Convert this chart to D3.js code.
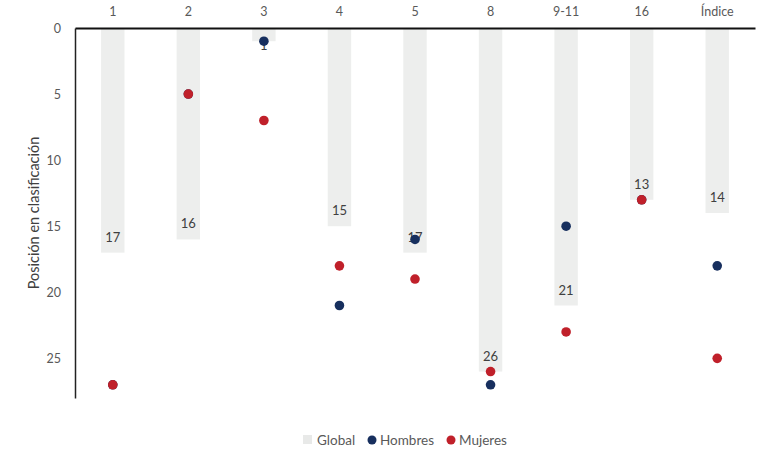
<!DOCTYPE html>
<html>
<head>
<meta charset="utf-8">
<script src="https://cdn.jsdelivr.net/npm/d3@7"></script>
<style>
  body { margin: 0; background: #fff; }
  text { font-family: Lato, "Open Sans", sans-serif; }
</style>
</head>
<body>
<div id="chart"></div>
<script>
// categories and values
var categories = ["1", "2", "3", "4", "5", "8", "9-11", "16", "Índice"];
var globalRank = [17, 16, 1, 15, 17, 26, 21, 13, 14];
var hombres = [27, 5, 1, 21, 16, 27, 15, 13, 18];
var mujeres = [27, 5, 7, 18, 19, 26, 23, 13, 25];
var yTicks = [0, 5, 10, 15, 20, 25];

var width = 762, height = 451;
var margin = {top: 28, left: 75, right: 7, bottom: 53};

var svg = d3.select("#chart").append("svg")
  .attr("width", width)
  .attr("height", height);

var x = d3.scaleBand()
  .domain(categories)
  .range([margin.left, width - margin.right])
  .paddingInner(0.69)
  .paddingOuter(0.345);

var y = d3.scaleLinear()
  .domain([0, 28])
  .range([margin.top, height - margin.bottom]);

var rows = categories.map(function(c, i) {
  return {cat: c, g: globalRank[i], h: hombres[i], m: mujeres[i]};
});

// bars for global position
svg.selectAll("rect.bar")
  .data(rows)
  .enter().append("rect")
  .attr("class", "bar")
  .attr("x", function(d) { return x(d.cat); })
  .attr("y", y(0))
  .attr("width", x.bandwidth())
  .attr("height", function(d) { return y(d.g) - y(0); })
  .attr("fill", "#edeeed");

// labels at the end of the bars
svg.selectAll("text.lbl")
  .data(rows)
  .enter().append("text")
  .attr("class", "lbl")
  .attr("x", function(d) { return x(d.cat) + x.bandwidth() / 2; })
  .attr("y", function(d) {
    var yy = y(d.g) - 11;
    if (yy - 10 < y(0)) yy = y(d.g) + 9; // too short, push below
    return yy;
  })
  .attr("text-anchor", "middle")
  .attr("font-size", 13)
  .attr("fill", "#404040")
  .text(function(d) { return d.g; });

// dots
svg.selectAll("circle.h")
  .data(rows)
  .enter().append("circle")
  .attr("class", "h")
  .attr("cx", function(d) { return x(d.cat) + x.bandwidth() / 2; })
  .attr("cy", function(d) { return y(d.h); })
  .attr("r", 4.8)
  .attr("fill", "#172f5e");

svg.selectAll("circle.m")
  .data(rows)
  .enter().append("circle")
  .attr("class", "m")
  .attr("cx", function(d) { return x(d.cat) + x.bandwidth() / 2; })
  .attr("cy", function(d) { return y(d.m); })
  .attr("r", 4.8)
  .attr("fill", "#c0202a");

// top axis with category names
var xAxis = svg.append("g")
  .attr("transform", "translate(0," + y(0) + ")")
  .call(d3.axisTop(x).tickSize(0).tickPadding(12));
xAxis.select(".domain").attr("stroke", "#111").attr("stroke-width", 2);
xAxis.selectAll("text").attr("font-size", 12.5).attr("fill", "#595959")
  .style("font-family", "Lato, 'Open Sans', sans-serif");

// left axis
var yAxis = svg.append("g")
  .attr("transform", "translate(" + margin.left + ",0)")
  .call(d3.axisLeft(y).tickValues(yTicks).tickSize(0).tickPadding(14));
yAxis.select(".domain").attr("stroke", "#222").attr("stroke-width", 1.5);
yAxis.selectAll("text").attr("font-size", 12.5).attr("fill", "#595959")
  .style("font-family", "Lato, 'Open Sans', sans-serif");

svg.append("text")
  .attr("transform", "translate(39,213) rotate(-90)")
  .attr("text-anchor", "middle")
  .attr("font-size", 14.5)
  .attr("fill", "#404040")
  .text("Posición en clasificación");

// legend
var legend = svg.append("g").attr("transform", "translate(0,440)");
legend.append("rect").attr("x", 303).attr("y", -5).attr("width", 9).attr("height", 9).attr("fill", "#e8e9e8");
legend.append("text").attr("x", 317).attr("y", 4.5).attr("font-size", 13.5).attr("fill", "#595959").text("Global");
legend.append("circle").attr("cx", 372).attr("cy", 0).attr("r", 4.5).attr("fill", "#172f5e");
legend.append("text").attr("x", 380).attr("y", 4.5).attr("font-size", 13.5).attr("fill", "#595959").text("Hombres");
legend.append("circle").attr("cx", 451).attr("cy", 0).attr("r", 4.5).attr("fill", "#c0202a");
legend.append("text").attr("x", 459).attr("y", 4.5).attr("font-size", 13.5).attr("fill", "#595959").text("Mujeres");
</script>
</body>
</html>
